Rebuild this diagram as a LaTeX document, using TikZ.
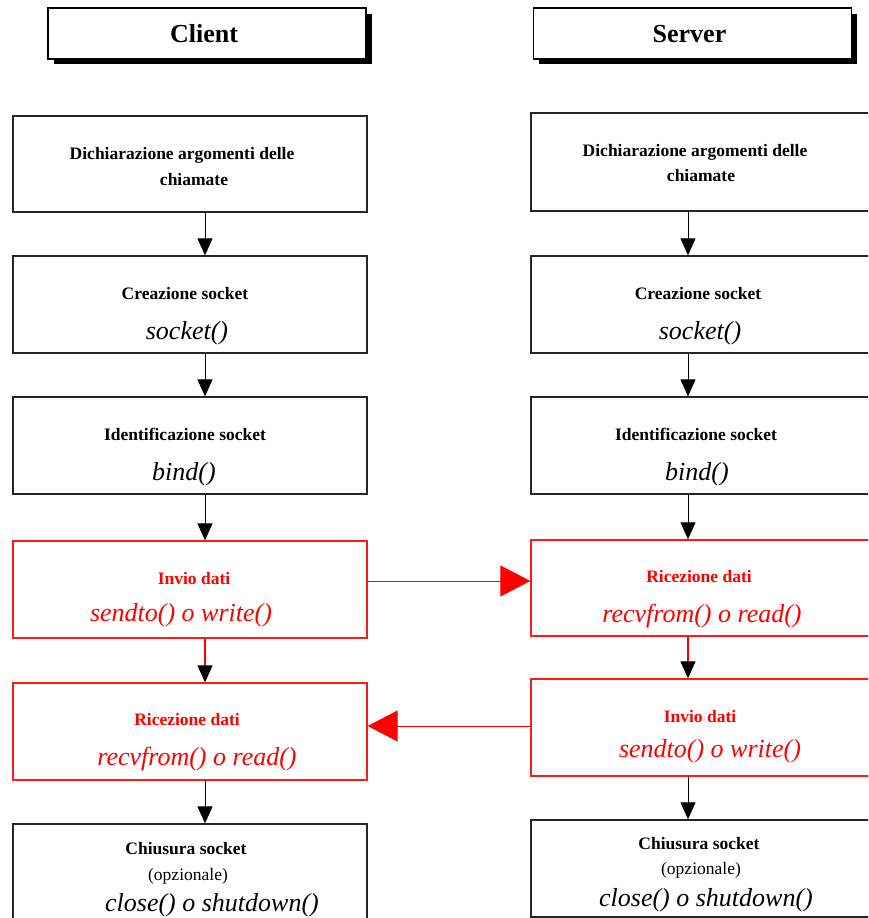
\documentclass[tikz,border=0pt]{standalone}
\usepackage{fontspec}
\setmainfont{Liberation Serif}
\usetikzlibrary{arrows.meta}
\begin{document}
\begin{tikzpicture}[x=1pt,y=-1pt,
  hdr/.style={draw=black,line width=1.2pt,fill=white,minimum width=318pt,minimum height=51pt,inner sep=0pt,
    font=\fontsize{26}{30}\selectfont\bfseries},
  stepbox/.style={draw=black!85,line width=1.3pt,inner sep=0pt,minimum height=97pt},
  lbox/.style={stepbox,minimum width=354pt},
  rbox/.style={stepbox,minimum width=339pt},
  redbox/.style={draw=red!90},
  lbl/.style={inner sep=0pt,font=\fontsize{17.5}{21}\selectfont\bfseries},
  fn/.style={inner sep=0pt,yshift=-3pt,font=\fontsize{26}{30}\selectfont\itshape},
  opt/.style={inner sep=0pt,font=\fontsize{17.5}{21}\selectfont},
  flow/.style={line width=1pt,draw=black,-{Triangle[width=15pt,length=17pt]}},
  redflow/.style={line width=1.2pt,draw=red,-{Triangle[width=15pt,length=17pt,color=black,fill=black]}},
  msg/.style={draw=red,fill=red,line width=1pt,-{Triangle[width=31pt,length=30pt]}}]
\useasboundingbox (0,0) rectangle (868,918);
\clip (0,0) rectangle (868,918);

% column headers with drop shadow
\fill[black] (54,14) rectangle (372,64);
\node[hdr] (hc) at (207,33.5) {};
\node at (204,34) {\fontsize{26}{30}\selectfont\bfseries Client};
\fill[black] (539,14) rectangle (857,64);
\node[hdr] (hs) at (692.5,33.5) {};
\node at (689.5,34) {\fontsize{26}{30}\selectfont\bfseries Server};

% client column
\node[lbox,minimum height=96pt] (l1) at (190,164) {};
\node[lbox] (l2) at (190,304.5) {};
\node[lbox] (l3) at (190,445.5) {};
\node[lbox,redbox] (l4) at (190,589.5) {};
\node[lbox,redbox] (l5) at (190,731.5) {};
\node[lbox] (l6) at (190,872.5) {};

\node[lbl] at (182,155) {Dichiarazione argomenti delle};
\node[lbl] at (194,180) {chiamate};
\node[lbl] at (185,294) {Creazione socket};
\node[fn]  at (187,330) {socket()};
\node[lbl] at (185,434) {Identificazione socket};
\node[fn]  at (184,471) {bind()};
\node[lbl,text=red] at (194,579) {Invio dati};
\node[fn,text=red]  at (181,612) {sendto() o write()};
\node[lbl,text=red] at (187,720) {Ricezione dati};
\node[fn,text=red]  at (197,756) {recvfrom() o read()};
\node[lbl] at (186,849) {Chiusura socket};
\node[opt] at (188,876) {(opzionale)};
\node[fn]  at (212,902) {close() o shutdown()};

% server column
\node[rbox,minimum height=98pt] (r1) at (700.5,162) {};
\node[rbox] (r2) at (700.5,304.5) {};
\node[rbox] (r3) at (700.5,445.5) {};
\node[rbox,redbox,minimum height=96pt] (r4) at (700.5,588) {};
\node[rbox,redbox] (r5) at (700.5,727.5) {};
\node[rbox] (r6) at (700.5,868.5) {};

\node[lbl] at (695,152) {Dichiarazione argomenti delle};
\node[lbl] at (701,176) {chiamate};
\node[lbl] at (698,294) {Creazione socket};
\node[fn]  at (700,330) {socket()};
\node[lbl] at (696,434) {Identificazione socket};
\node[fn]  at (697,471) {bind()};
\node[lbl,text=red] at (699,577) {Ricezione dati};
\node[fn,text=red]  at (702,613) {recvfrom() o read()};
\node[lbl,text=red] at (700,717) {Invio dati};
\node[fn,text=red]  at (710,748) {sendto() o write()};
\node[lbl] at (699,844) {Chiusura socket};
\node[opt] at (701,870) {(opzionale)};
\node[fn]  at (706,897) {close() o shutdown()};

% vertical flow, client
\draw[flow] ([xshift=15pt]l1.south) -- ([xshift=15pt]l1.south |- l2.north);
\draw[flow] ([xshift=15pt]l2.south) -- ([xshift=15pt]l2.south |- l3.north);
\draw[flow] ([xshift=15pt]l3.south) -- ([xshift=15pt]l3.south |- l4.north);
\draw[redflow] ([xshift=15pt]l4.south) -- ([xshift=15pt]l4.south |- l5.north);
\draw[flow] ([xshift=15pt]l5.south) -- ([xshift=15pt]l5.south |- l6.north);

% vertical flow, server
\draw[flow] ([xshift=-12.5pt]r1.south) -- ([xshift=-12.5pt]r1.south |- r2.north);
\draw[flow] ([xshift=-12.5pt]r2.south) -- ([xshift=-12.5pt]r2.south |- r3.north);
\draw[flow] ([xshift=-12.5pt]r3.south) -- ([xshift=-12.5pt]r3.south |- r4.north);
\draw[redflow] ([xshift=-12.5pt]r4.south) -- ([xshift=-12.5pt]r4.south |- r5.north);
\draw[flow] ([xshift=-12.5pt]r5.south) -- ([xshift=-12.5pt]r5.south |- r6.north);

% datagram exchange
\draw[msg] ([yshift=8.5pt]l4.east) -- ([yshift=8.5pt]l4.east -| r4.west);
\draw[msg] ([yshift=1.5pt]r5.west) -- ([yshift=1.5pt]r5.west -| l5.east);
\end{tikzpicture}
\end{document}
